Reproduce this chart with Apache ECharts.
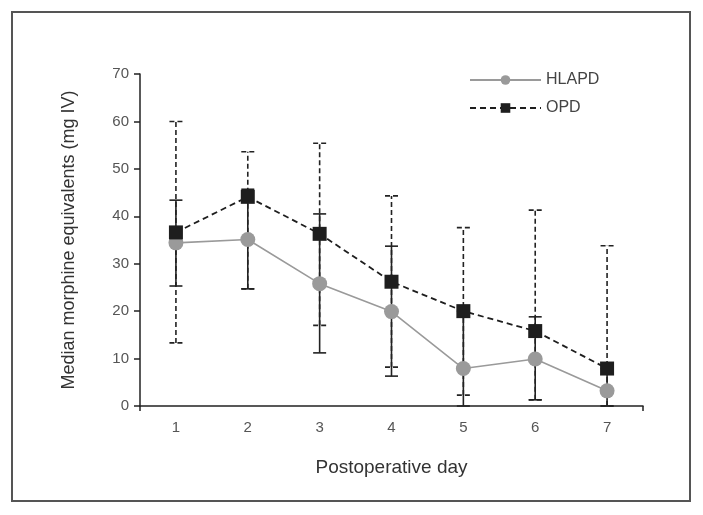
<!DOCTYPE html>
<html>
<head>
<meta charset="utf-8">
<script src="https://cdn.jsdelivr.net/npm/echarts@6/dist/echarts.min.js"></script>
<style>
  html, body { margin: 0; padding: 0; background: #fff; }
  #chart { width: 703px; height: 515px; }
</style>
</head>
<body>
<div id="chart"></div>
<script>
var days = ['1', '2', '3', '4', '5', '6', '7'];

// HLAPD: median with error range
var hlapdMedian = [34.4, 35.1, 25.8, 19.9, 7.9, 9.9, 3.2];
var hlapdLow = [25.3, 24.7, 11.2, 6.3, 0, 1.3, 0];
var hlapdHigh = [43.4, 45.7, 40.5, 33.7, 20.0, 18.8, 7.9];

// OPD: median with error range
var opdMedian = [36.6, 44.1, 36.3, 26.2, 20.0, 15.8, 7.9];
var opdLow = [13.3, 24.7, 17.0, 8.2, 2.3, 1.3, 0];
var opdHigh = [60.0, 53.6, 55.4, 44.3, 37.6, 41.3, 33.8];

var yTicks = [0, 10, 20, 30, 40, 50, 60, 70];

var fontFam = '"Liberation Sans", Arial, sans-serif';
var axisColor = '#222';

function errorData(low, high) {
    return days.map(function (d, i) {
        return [i, low[i], high[i]];
    });
}

function errorBars(dash) {
    return function (params, api) {
        var x = api.value(0);
        var lo = api.coord([x, api.value(1)]);
        var hi = api.coord([x, api.value(2)]);
        var cap = 6.5;
        var style = {
            stroke: axisColor,
            lineWidth: 1.6,
            lineDash: dash
        };
        return {
            type: 'group',
            children: [
                {type: 'line', shape: {x1: lo[0], y1: lo[1], x2: hi[0], y2: hi[1]}, style: style},
                {type: 'line', shape: {x1: lo[0] - cap, y1: lo[1], x2: lo[0] + cap, y2: lo[1]}, style: style},
                {type: 'line', shape: {x1: hi[0] - cap, y1: hi[1], x2: hi[0] + cap, y2: hi[1]}, style: style}
            ]
        };
    };
}

var chart = echarts.init(document.getElementById('chart'), null, {renderer: 'canvas'});

var option = {
    backgroundColor: '#fff',
    animation: false,
    graphic: [{
        type: 'rect',
        shape: {x: 12, y: 12, width: 678, height: 489},
        style: {fill: 'none', stroke: '#555', lineWidth: 2}
    }],
    legend: {
        orient: 'vertical',
        left: 464,
        top: 67,
        itemWidth: 71,
        itemHeight: 12,
        itemGap: 12,
        textStyle: {fontFamily: fontFam, fontSize: 16, color: '#444'},
        data: ['HLAPD', 'OPD']
    },
    grid: {left: 140, right: 60, top: 74, bottom: 109},
    xAxis: [{
        type: 'category',
        data: days,
        boundaryGap: true,
        name: 'Postoperative day',
        nameLocation: 'middle',
        nameGap: 52,
        nameTextStyle: {fontFamily: fontFam, fontSize: 19, color: '#333'},
        axisLine: {lineStyle: {color: axisColor, width: 1.5}},
        axisTick: {alignWithLabel: true, length: 4, lineStyle: {color: axisColor, width: 1.5}},
        axisLabel: {fontFamily: fontFam, fontSize: 15, color: '#555', margin: 14},
        splitLine: {show: false}
    }, {
        // only to draw the end ticks of the x axis
        type: 'value',
        position: 'bottom',
        min: 0,
        max: 1,
        interval: 1,
        axisLine: {show: false},
        axisTick: {show: true, length: 5, lineStyle: {color: axisColor, width: 1.5}},
        axisLabel: {show: false},
        splitLine: {show: false}
    }],
    yAxis: {
        type: 'value',
        min: yTicks[0],
        max: yTicks[yTicks.length - 1],
        interval: 10,
        name: 'Median morphine equivalents (mg IV)',
        nameLocation: 'middle',
        nameGap: 62,
        nameTextStyle: {fontFamily: fontFam, fontSize: 18, color: '#333'},
        axisLine: {show: true, lineStyle: {color: axisColor, width: 1.5}},
        axisTick: {show: true, length: 6, lineStyle: {color: axisColor, width: 1.5}},
        axisLabel: {fontFamily: fontFam, fontSize: 15, color: '#555', margin: 11},
        splitLine: {show: false}
    },
    series: [{
        name: 'OPD err',
        type: 'custom',
        renderItem: errorBars([5, 3]),
        data: errorData(opdLow, opdHigh),
        z: 2
    }, {
        name: 'HLAPD err',
        type: 'custom',
        renderItem: errorBars(null),
        data: errorData(hlapdLow, hlapdHigh),
        z: 2
    }, {
        name: 'HLAPD',
        type: 'line',
        data: hlapdMedian,
        symbol: 'circle',
        symbolSize: 15,
        itemStyle: {color: '#9a9a9a'},
        lineStyle: {color: '#9a9a9a', width: 1.6},
        z: 3
    }, {
        name: 'OPD',
        type: 'line',
        data: opdMedian,
        symbol: 'rect',
        symbolSize: 14,
        itemStyle: {color: '#1e1e1e'},
        lineStyle: {color: '#1e1e1e', width: 1.8, type: [6, 4]},
        z: 4
    }]
};

chart.setOption(option);
</script>
</body>
</html>
